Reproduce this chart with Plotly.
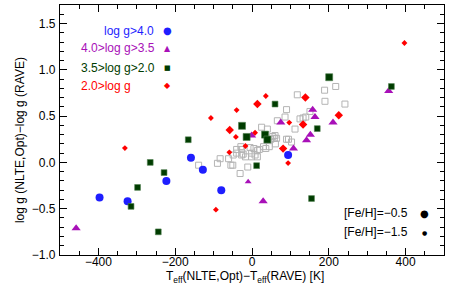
import plotly.graph_objects as go

# ---- data ----
# comparison sample (open grey squares)
ref_x = [-139, -90, -83, -61, -55, -50, -49, -40, -31, -29, -27, -23, -17, -11, -5, -1, -1, 5, 8, 14,
         14, 19, 25, 30, 36, 40, 45, 49, 54, 58, 60, 61, 64, 66, 86, 90, 90, 95, 103, 112,
         118, 125, 133, 140, 151, 189, 190, 218, 242, -40, -27]
ref_y = [-0.03, -0.01, 0.04, 0.04, -0.03, -0.03, 0.08, 0.10, -0.12, 0.17, 0.08, 0.09, 0.06, -0.05, 0.16, 0.10, 0.06, 0.15, 0.08, 0.06,
         0.13, 0.14, 0.38, 0.17, 0.15, 0.36, 0.17, 0.25, 0.28, 0.26, 0.29, 0.20, 0.26, 0.45, 0.49, 0.57, 0.25, 0.25, 0.22, 0.36,
         0.73, 0.47, 0.48, 0.49, 0.55, 0.78, 0.66, 0.82, 0.63, 0.14, 0.14]

# log g > 4.0
g1_x = [-397, -324, -223, -159, -128, -80, 94]
g1_y = [-0.38, -0.42, -0.20, 0.05, -0.08, -0.30, 0.08]
g1_feh = [-0.5, -0.5, -0.5, -0.5, -0.5, -0.5, -0.5]

# 4.0 > log g > 3.5
g2_x = [-458, -10, 29, -1, 75, 108, 142, 152, 158, 164, 211, 356]
g2_y = [-0.71, -0.21, -0.42, 0.29, 0.43, 0.15, 0.24, 0.30, 0.57, 0.49, 0.43, 0.77]
g2_feh = [-0.5, -1.5, -0.5, -0.5, -0.5, -0.5, -0.5, -0.5, -0.5, -0.5, -0.5, -0.5]

# 3.5 > log g > 2.0
g3_x = [-265, -229, -298, -315, -244, -166, 12, 155, -26, -14, 34, 40, 60, 201, 363, 170]
g3_y = [0.00, -0.11, -0.27, -0.475, -0.75, 0.245, -0.035, -0.39, 0.395, 0.275, 0.30, 0.247, 0.63, 0.92, 0.82, 0.365]
g3_feh = [-1.5, -1.5, -1.5, -1.5, -1.5, -1.5, -1.5, -1.5, -0.5, -0.5, -0.5, -0.5, -1.5, -0.5, -1.5, -1.5]

# 2.0 > log g
g4_x = [-331, -107, -40, 14, -58, -42, 8, -17, 36, -59, 81, 97, 94, -94, 139, 133, 226, 397]
g4_y = [0.155, 0.48, 0.565, 0.63, 0.35, 0.275, 0.32, 0.177, 0.717, 0.109, 0.149, 0.43, -0.007, -0.51, 0.70, 0.41, 0.51, 1.29]
g4_feh = [-1.5, -1.5, -1.5, -0.5, -0.5, -1.5, -1.5, -1.5, -1.5, -1.5, -0.5, -1.5, -1.5, -1.5, -0.5, -0.5, -0.5, -1.5]

group_labels = ["log g>4.0", "4.0>log g>3.5", "3.5>log g>2.0", "2.0>log g"]
group_colors = ["#1e1eff", "#a810b8", "#003c00", "#ff0000"]
group_symbols = ["circle", "triangle-up", "square", "diamond"]
feh_labels = ["[Fe/H]=\u22120.5", "[Fe/H]=\u22121.5"]

size_big = {"circle": 8, "triangle-up": 8, "square": 7, "diamond": 6.5}
size_small = {"circle": 5.5, "triangle-up": 6, "square": 5.8, "diamond": 4.5}

fig = go.Figure()
fig.add_trace(go.Scatter(x=ref_x, y=ref_y, mode="markers",
                         marker=dict(symbol="square-open", size=6, color="#b4b4b4", opacity=1, line=dict(width=1)),
                         showlegend=False, hoverinfo="skip"))

groups = [(g1_x, g1_y, g1_feh), (g2_x, g2_y, g2_feh), (g3_x, g3_y, g3_feh), (g4_x, g4_y, g4_feh)]
for (gx, gy, gf), col, sym in zip(groups, group_colors, group_symbols):
    sizes = [size_big[sym] if f > -1.0 else size_small[sym] for f in gf]
    line = dict(width=0.6, color="#4f7f4f") if sym == "square" else dict(width=0)
    fig.add_trace(go.Scatter(x=gx, y=gy, mode="markers",
                             marker=dict(symbol=sym, size=sizes, color=col, opacity=1, line=line),
                             showlegend=False))

FONT = "Liberation Sans, Arial, Helvetica, sans-serif"
annotations = []
# group legend (top left)
leg_y = [0.896, 0.828, 0.748, 0.676]
leg_x_text = [0.109, 0.049, 0.049, 0.049]
sym_chars = ["\u25CF", "\u25B2", "\u25A0", "\u25C6"]
sym_sizes = [10, 8, 7, 8]
for lab, col, yy, xx, ch, ss in zip(group_labels, group_colors, leg_y, leg_x_text, sym_chars, sym_sizes):
    annotations.append(dict(xref="paper", yref="paper", x=xx, y=yy, text=lab, showarrow=False,
                            xanchor="left", yanchor="middle", font=dict(family=FONT, size=12, color=col)))
    annotations.append(dict(xref="paper", yref="paper", x=0.281, y=yy, text=ch, showarrow=False,
                            xanchor="center", yanchor="middle", font=dict(family="DejaVu Sans", size=ss, color=col)))
# metallicity legend (bottom right)
for lab, yy, ss in zip(feh_labels, [0.168, 0.092], [10, 6]):
    annotations.append(dict(xref="paper", yref="paper", x=0.912, y=yy, text=lab, showarrow=False,
                            xanchor="right", yanchor="middle", font=dict(family=FONT, size=12, color="black")))
    annotations.append(dict(xref="paper", yref="paper", x=0.950, y=yy, text="\u25CF", showarrow=False,
                            xanchor="center", yanchor="middle", font=dict(family="DejaVu Sans", size=ss, color="black")))
# axis titles
annotations.append(dict(xref="paper", yref="paper", x=0.482, y=-0.088,
                        text="T<sub>eff</sub>(NLTE,Opt)\u2212T<sub>eff</sub>(RAVE) [K]", showarrow=False,
                        xanchor="center", yanchor="middle", font=dict(family=FONT, size=12, color="black")))
annotations.append(dict(xref="paper", yref="paper", x=-0.104, y=0.46,
                        text="log g (NLTE,Opt)\u2212log g (RAVE)", showarrow=False, textangle=-90,
                        xanchor="center", yanchor="middle", font=dict(family=FONT, size=12, color="black")))

axis_common = dict(showgrid=False, zeroline=False, showline=True, linecolor="black", linewidth=1.3,
                   mirror="allticks", ticks="inside", ticklen=7, tickwidth=1, tickcolor="black",
                   tickfont=dict(family=FONT, size=12, color="black"))

fig.update_layout(
    width=463, height=300,
    margin=dict(l=60, r=19, t=5, b=45),
    paper_bgcolor="white", plot_bgcolor="white",
    showlegend=False,
    xaxis=dict(range=[-500, 500], tick0=0, dtick=200,
               minor=dict(dtick=50, ticks="inside", ticklen=4, tickcolor="black"),
               ticklabelstandoff=-5,
               **axis_common),
    yaxis=dict(range=[-1.0, 1.7], tick0=0, dtick=0.5, tickformat=".1f",
               minor=dict(dtick=0.1, ticks="inside", ticklen=4, tickcolor="black"),
               ticklabelstandoff=1,
               **axis_common),
    annotations=annotations,
)

fig.write_html("out.html", config={"displayModeBar": False},
               post_script="document.body.style.margin='0px';")
